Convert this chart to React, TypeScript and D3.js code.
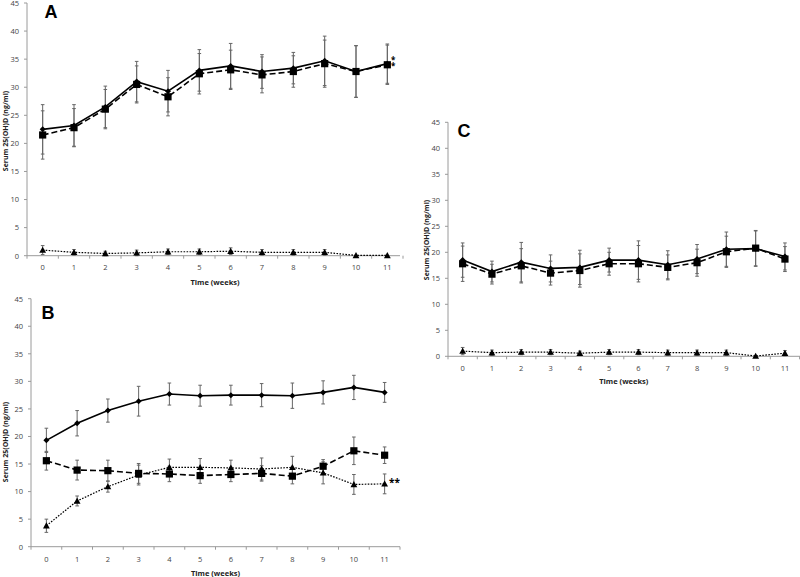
import React from "react";
import * as d3 from "d3";

const weeks = ["0", "1", "2", "3", "4", "5", "6", "7", "8", "9", "10", "11"];
const yTicks = [0, 5, 10, 15, 20, 25, 30, 35, 40, 45];

const A_solid = [22.5, 23.2, 26.5, 31.0, 29.3, 33.0, 33.8, 32.8, 33.4, 34.7, 32.8, 34.2];
const A_solidErr = [4.4, 3.7, 3.7, 3.6, 3.7, 3.7, 4.0, 3.0, 2.8, 4.4, 4.6, 3.5];
const A_dashed = [21.5, 22.8, 26.1, 30.5, 28.3, 32.4, 33.1, 32.2, 32.8, 34.2, 32.8, 34.0];
const A_dashedErr = [4.3, 3.4, 3.5, 3.3, 3.4, 3.6, 3.5, 3.2, 2.8, 4.2, 4.6, 3.5];
const A_dotted = [1.0, 0.6, 0.4, 0.5, 0.7, 0.7, 0.8, 0.6, 0.6, 0.6, 0.05, 0.05];
const A_dottedErr = [0.8, 0.5, 0.4, 0.5, 0.5, 0.5, 0.6, 0.5, 0.5, 0.5, 0, 0];

const B_solid = [19.3, 22.4, 24.7, 26.4, 27.7, 27.4, 27.5, 27.5, 27.4, 28.0, 28.9, 28.0];
const B_solidErr = [2.2, 2.3, 2.1, 2.7, 2.0, 1.9, 1.8, 2.1, 2.3, 2.1, 2.2, 1.8];
const B_dashed = [15.6, 13.9, 13.8, 13.3, 13.2, 12.9, 13.1, 13.3, 12.8, 14.6, 17.4, 16.6];
const B_dashedErr = [1.7, 1.8, 1.9, 1.8, 1.4, 1.4, 1.3, 1.4, 1.4, 1.2, 2.5, 1.5];
const B_dotted = [3.8, 8.3, 10.9, 13.0, 14.4, 14.4, 14.3, 14.1, 14.4, 13.4, 11.3, 11.4];
const B_dottedErr = [1.2, 0.9, 1.0, 1.8, 1.5, 1.6, 1.4, 2.0, 2.0, 2.0, 1.8, 1.8];

const C_solid = [18.5, 16.3, 18.1, 16.9, 17.1, 18.5, 18.5, 17.6, 18.7, 20.6, 20.7, 19.2];
const C_solidErr = [3.3, 2.0, 3.8, 2.6, 3.3, 2.3, 3.7, 2.7, 2.8, 3.3, 3.4, 2.6];
const C_dashed = [17.8, 15.8, 17.4, 16.0, 16.5, 17.8, 17.8, 17.1, 18.0, 20.1, 20.8, 18.7];
const C_dashedErr = [3.4, 1.9, 3.3, 2.3, 3.2, 2.2, 3.5, 2.4, 2.6, 3.0, 3.4, 2.4];
const C_dotted = [1.0, 0.7, 0.8, 0.8, 0.6, 0.8, 0.8, 0.7, 0.7, 0.7, 0.05, 0.6];
const C_dottedErr = [0.7, 0.5, 0.5, 0.5, 0.4, 0.5, 0.5, 0.5, 0.5, 0.5, 0, 0.5];

type Series = { values: number[]; errs: number[]; kind: "solid" | "dashed" | "dotted" };

type PanelProps = {
  letter: string;
  axisX: number;
  rangeEnd: number;
  xAxisEnd: number;
  y0: number;
  y45: number;
  letterPos: [number, number];
  yTitlePos: [number, number];
  tickLabelY: number;
  xTitleY: number;
  series: Series[];
  stars?: { lines: string[]; x: number; y: number; dy: number; size: number }[];
};

const FONT = "'Open Sans', 'Liberation Sans', Arial, sans-serif";

function Marker({ kind, x, y }: { kind: string; x: number; y: number }) {
  if (kind === "dashed") {
    return <rect x={x - 3.6} y={y - 3.6} width={7.2} height={7.2} fill="#000" />;
  }
  if (kind === "dotted") {
    const s = 3.4;
    return (
      <path
        d={`M${x},${y - s} L${x + s},${y + s * 0.8} L${x - s},${y + s * 0.8} Z`}
        fill="#000"
      />
    );
  }
  const s = 3;
  return <path d={`M${x},${y - s} L${x + s},${y} L${x},${y + s} L${x - s},${y} Z`} fill="#000" />;
}

function Panel(p: PanelProps) {
  const x = d3.scaleBand<string>().domain(weeks).range([p.axisX, p.rangeEnd]).padding(0);
  const y = d3.scaleLinear().domain([0, 45]).range([p.y0, p.y45]);
  const cx = (i: number) => (x(weeks[i]) as number) + x.bandwidth() / 2;
  const line = d3
    .line<number>()
    .x((_, i) => cx(i))
    .y((v) => y(v));
  const dashFor = (k: string) => (k === "dashed" ? "6,3" : k === "dotted" ? "1.6,1.4" : undefined);
  const widthFor = (k: string) => (k === "dotted" ? 1.2 : 1.6);
  const boundaries = weeks.map((w) => x(w) as number).concat([p.rangeEnd]);
  return (
    <g>
      <line x1={p.axisX} x2={p.axisX} y1={p.y0} y2={p.y45} stroke="#9a9a9a" strokeWidth={1} />
      <line x1={p.axisX} x2={p.xAxisEnd} y1={p.y0} y2={p.y0} stroke="#9a9a9a" strokeWidth={1} />
      {yTicks.map((t) => (
        <g key={t}>
          <line x1={p.axisX - 3} x2={p.axisX} y1={y(t)} y2={y(t)} stroke="#9a9a9a" />
          <text
            x={p.axisX - 8}
            y={y(t) + 2.8}
            textAnchor="end"
            fontSize={7.5}
            fill="#444"
            fontFamily={FONT}
          >
            {t}
          </text>
        </g>
      ))}
      {boundaries.map((b, i) => (
        <line key={i} x1={b} x2={b} y1={p.y0} y2={p.y0 + 3} stroke="#9a9a9a" />
      ))}
      {weeks.map((w, i) => (
        <text
          key={w}
          x={cx(i)}
          y={p.tickLabelY}
          textAnchor="middle"
          fontSize={7.5}
          fill="#444"
          fontFamily={FONT}
        >
          {w}
        </text>
      ))}
      <text
        x={(p.axisX + p.rangeEnd) / 2}
        y={p.xTitleY}
        textAnchor="middle"
        fontSize={7.5}
        fontWeight="bold"
        fill="#222"
        fontFamily={FONT}
      >
        Time (weeks)
      </text>
      <text
        transform={`translate(${p.yTitlePos[0]},${p.yTitlePos[1]}) rotate(-90)`}
        textAnchor="middle"
        fontSize={7}
        fontWeight="bold"
        fill="#222"
        fontFamily={FONT}
      >
        Serum 25(OH)D (ng/ml)
      </text>
      <text
        x={p.letterPos[0]}
        y={p.letterPos[1]}
        fontSize={18}
        fontWeight="bold"
        fill="#000"
        fontFamily="'Liberation Sans', Arial, sans-serif"
      >
        {p.letter}
      </text>
      {p.series.map((s, si) =>
        s.values.map((v, i) =>
          s.errs[i] > 0 ? (
            <g key={`e${si}-${i}`} stroke="#666" strokeWidth={1}>
              <line x1={cx(i)} x2={cx(i)} y1={y(v - s.errs[i])} y2={y(v + s.errs[i])} />
              <line x1={cx(i) - 1.8} x2={cx(i) + 1.8} y1={y(v + s.errs[i])} y2={y(v + s.errs[i])} />
              <line x1={cx(i) - 1.8} x2={cx(i) + 1.8} y1={y(v - s.errs[i])} y2={y(v - s.errs[i])} />
            </g>
          ) : null
        )
      )}
      {p.series.map((s, si) => (
        <path
          key={`l${si}`}
          d={line(s.values) as string}
          fill="none"
          stroke="#000"
          strokeWidth={widthFor(s.kind)}
          strokeDasharray={dashFor(s.kind)}
        />
      ))}
      {p.series.map((s, si) =>
        s.values.map((v, i) => <Marker key={`m${si}-${i}`} kind={s.kind} x={cx(i)} y={y(v)} />)
      )}
      {(p.stars || []).map((st, i) => (
        <text key={i} fontSize={st.size} fontWeight="bold" fill="#000" fontFamily={FONT}>
          {st.lines.map((l, j) => (
            <tspan key={j} x={st.x} y={st.y + j * st.dy}>
              {l}
            </tspan>
          ))}
        </text>
      ))}
    </g>
  );
}

export default function App() {
  return (
    <svg
      width={800}
      height={577}
      style={{ position: "absolute", left: 0, top: 0, background: "#fff" }}
    >
      <rect width={800} height={577} fill="#fff" />
      <Panel
        letter="A"
        axisX={27}
        rangeEnd={403}
        xAxisEnd={400}
        y0={255.7}
        y45={3}
        letterPos={[44.5, 17.5]}
        yTitlePos={[8, 131]}
        tickLabelY={269.5}
        xTitleY={284.5}
        series={[
          { values: A_solid, errs: A_solidErr, kind: "solid" },
          { values: A_dashed, errs: A_dashedErr, kind: "dashed" },
          { values: A_dotted, errs: A_dottedErr, kind: "dotted" },
        ]}
        stars={[{ lines: ["*", "*"], x: 391, y: 62.5, dy: 6.7, size: 8 }]}
      />
      <Panel
        letter="B"
        axisX={31}
        rangeEnd={400}
        xAxisEnd={400}
        y0={546.7}
        y45={298.7}
        letterPos={[41.5, 318.5]}
        yTitlePos={[8, 442]}
        tickLabelY={562}
        xTitleY={576}
        series={[
          { values: B_solid, errs: B_solidErr, kind: "solid" },
          { values: B_dashed, errs: B_dashedErr, kind: "dashed" },
          { values: B_dotted, errs: B_dottedErr, kind: "dotted" },
        ]}
        stars={[{ lines: ["**"], x: 389, y: 486, dy: 0, size: 10 }]}
      />
      <Panel
        letter="C"
        axisX={448}
        rangeEnd={799.6}
        xAxisEnd={800}
        y0={356.3}
        y45={122.3}
        letterPos={[457.5, 136.5]}
        yTitlePos={[429, 240]}
        tickLabelY={371}
        xTitleY={384}
        series={[
          { values: C_solid, errs: C_solidErr, kind: "solid" },
          { values: C_dashed, errs: C_dashedErr, kind: "dashed" },
          { values: C_dotted, errs: C_dottedErr, kind: "dotted" },
        ]}
      />
    </svg>
  );
}
